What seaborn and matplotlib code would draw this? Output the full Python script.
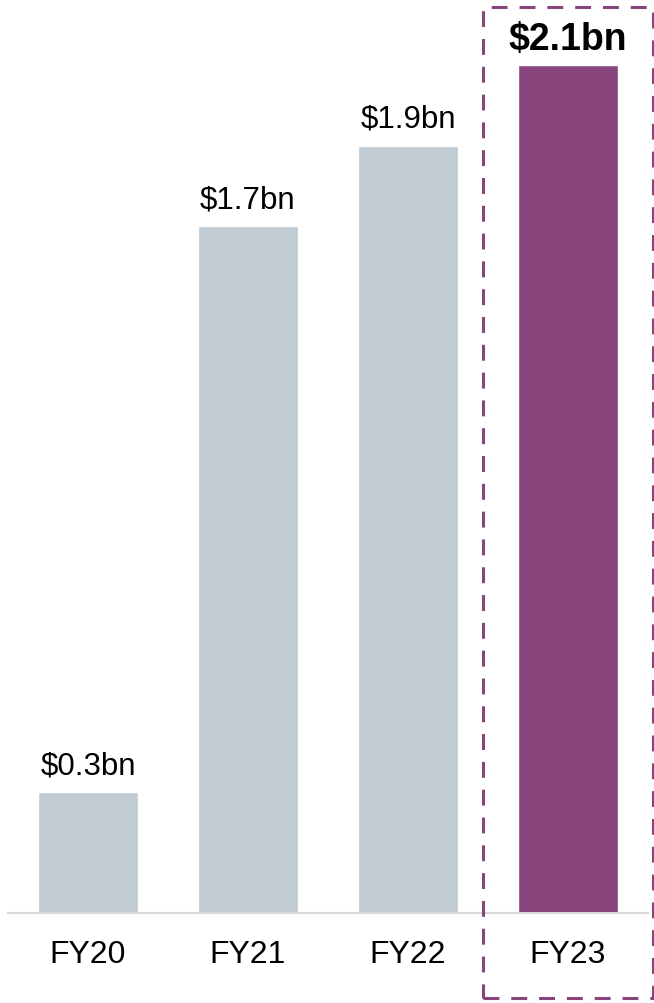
import matplotlib.pyplot as plt
import matplotlib.patches as patches
import seaborn as sns
import pandas as pd

sns.set_style("white")
plt.rcParams['font.family'] = ['Liberation Sans', 'DejaVu Sans']
plt.rcParams['text.color'] = 'black'

years = ["FY20", "FY21", "FY22", "FY23"]
revenue = [0.3, 1.7, 1.9, 2.1]
labels = ["$0.3bn", "$1.7bn", "$1.9bn", "$2.1bn"]
colors = ["#c1cbd4", "#c1cbd4", "#c1cbd4", "#87457b"]

data = pd.DataFrame({"Year": years, "Revenue": revenue})

fig = plt.figure(figsize=(6.54, 10.04), dpi=100)
ax = fig.add_axes([8 / 654, 90 / 1004, 640 / 654, 914 / 1004])

sns.barplot(x="Year", y="Revenue", data=data, hue="Year", palette=colors,
            legend=False, width=0.625, saturation=1, ax=ax)

ax.set_xlim(-0.5, 3.5)
ax.set_ylim(0, 2.263)
ax.set_xlabel("")
ax.set_ylabel("")
ax.set_yticks([])
for side in ["top", "right", "left"]:
    ax.spines[side].set_visible(False)
ax.spines["bottom"].set_color("#d9d9d9")
ax.spines["bottom"].set_linewidth(1.5)
ax.tick_params(axis="x", length=0, pad=19, labelsize=23, labelcolor="black")

for i, (v, lab) in enumerate(zip(revenue, labels)):
    if i == len(revenue) - 1:
        ax.annotate(lab, (i, v), xytext=(0, 6), textcoords="offset points",
                    ha="center", va="bottom", fontsize=27, fontweight="bold",
                    color="black")
    else:
        ax.annotate(lab, (i, v), xytext=(0, 8.5), textcoords="offset points",
                    ha="center", va="bottom", fontsize=22.5, color="black")

# highlight box around the latest year
box = patches.Rectangle((483 / 654, 5 / 1004), 170 / 654, 991 / 1004,
                        transform=fig.transFigure, fill=False,
                        edgecolor="#87457b", linewidth=2.2,
                        linestyle=(0, (5.2, 3.9)), clip_on=False)
fig.patches.append(box)

fig.savefig("out.png", dpi=100)
